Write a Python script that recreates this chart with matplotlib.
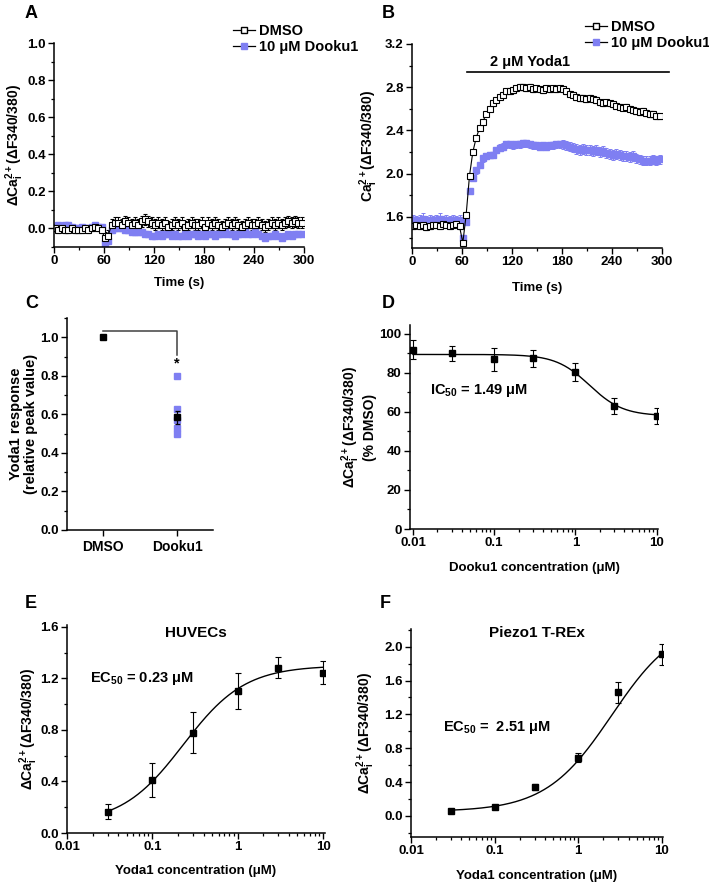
import numpy as np
import matplotlib
matplotlib.use("Agg")
import matplotlib.pyplot as plt
from matplotlib.lines import Line2D
from matplotlib.ticker import MultipleLocator, FixedLocator, LogLocator, FuncFormatter, NullFormatter

plt.rcParams['font.family'] = ['Liberation Sans', 'DejaVu Sans']
plt.rcParams['font.weight'] = 'bold'
plt.rcParams['axes.labelweight'] = 'bold'
plt.rcParams['mathtext.fontset'] = 'custom'
plt.rcParams['mathtext.rm'] = 'Liberation Sans:bold'
plt.rcParams['mathtext.it'] = 'Liberation Sans:bold'
plt.rcParams['mathtext.bf'] = 'Liberation Sans:bold'
plt.rcParams['mathtext.default'] = 'rm'

BLUE = '#7f7ff2'
TICK_FS = 9.5
LABEL_FS = 9.5
YLAB_FS = 10

# ---- panel A: baseline traces (dF340/380), one point every 4 s starting at 1 s
a_dmso = [0.00, -0.01, 0.00, -0.01, -0.01, 0.00, -0.01, -0.01, -0.01, 0.00,
          -0.01, 0.00, 0.01, 0.00, -0.01, -0.05, -0.04, 0.02, 0.03, 0.03,
          0.02, 0.04, 0.03, 0.02, 0.03, 0.02, 0.04, 0.05, 0.04, 0.03,
          0.02, 0.03, 0.02, 0.03, 0.01, 0.02, 0.03, 0.02, 0.03, 0.01,
          0.02, 0.03, 0.02, 0.02, 0.03, 0.01, 0.03, 0.02, 0.03, 0.02,
          0.01, 0.02, 0.03, 0.02, 0.03, 0.02, 0.01, 0.02, 0.03, 0.02,
          0.02, 0.03, 0.02, 0.01, 0.02, 0.03, 0.02, 0.03, 0.02, 0.03,
          0.04, 0.03, 0.04, 0.03, 0.03]
a_dmso_err = [0.015] * 15 + [0.03] * 60
a_dooku = [0.01, 0.02, 0.01, 0.02, 0.02, 0.01, 0.00, 0.00, 0.01, 0.00,
           0.00, 0.01, 0.02, 0.01, 0.01, -0.08, -0.07, -0.01, 0.00, 0.00,
           0.00, -0.01, -0.01, -0.02, -0.02, -0.02, -0.02, -0.03, -0.03, -0.04,
           -0.04, -0.03, -0.04, -0.03, -0.03, -0.04, -0.03, -0.04, -0.04, -0.03,
           -0.04, -0.03, -0.03, -0.04, -0.03, -0.04, -0.03, -0.03, -0.04, -0.03,
           -0.03, -0.02, -0.03, -0.03, -0.04, -0.03, -0.03, -0.02, -0.03, -0.03,
           -0.02, -0.03, -0.04, -0.05, -0.04, -0.04, -0.03, -0.04, -0.05, -0.04,
           -0.03, -0.04, -0.03, -0.03, -0.03]
a_dooku_err = [0.012] * 75

# ---- panel B: Yoda1 responses (F340/380)
b_dmso = [1.51, 1.52, 1.51, 1.52, 1.50, 1.51, 1.52, 1.52, 1.51, 1.53,
          1.52, 1.51, 1.52, 1.53, 1.51, 1.36, 1.62, 1.98, 2.20, 2.33,
          2.42, 2.48, 2.55, 2.60, 2.65, 2.68, 2.71, 2.73, 2.76, 2.76,
          2.77, 2.79, 2.80, 2.80, 2.79, 2.80, 2.78, 2.79, 2.78, 2.77,
          2.79, 2.78, 2.79, 2.78, 2.79, 2.78, 2.76, 2.74, 2.73, 2.71,
          2.70, 2.70, 2.69, 2.70, 2.69, 2.68, 2.66, 2.65, 2.66, 2.65,
          2.64, 2.63, 2.62, 2.61, 2.62, 2.60, 2.59, 2.58, 2.57, 2.58,
          2.56, 2.55, 2.55, 2.53, 2.53]
b_dmso_err = [0.02] * 15 + [0.02] * 15 + [0.025] * 45
b_dooku = [1.57, 1.56, 1.57, 1.58, 1.56, 1.57, 1.56, 1.57, 1.58, 1.56,
           1.57, 1.56, 1.57, 1.56, 1.57, 1.40, 1.55, 1.84, 1.96, 2.03,
           2.08, 2.14, 2.16, 2.17, 2.17, 2.22, 2.24, 2.25, 2.27, 2.27,
           2.26, 2.27, 2.27, 2.28, 2.28, 2.27, 2.26, 2.26, 2.25, 2.26,
           2.25, 2.26, 2.26, 2.27, 2.27, 2.27, 2.26, 2.25, 2.24, 2.23,
           2.22, 2.23, 2.22, 2.22, 2.21, 2.22, 2.20, 2.21, 2.19, 2.18,
           2.17, 2.18, 2.17, 2.16, 2.16, 2.15, 2.16, 2.14, 2.13, 2.12,
           2.12, 2.12, 2.13, 2.12, 2.13]
b_dooku_err = [0.05] * 15 + [0.03] * 30 + [0.045] * 30

# ---- panel C: relative peak values
c_groups = ['DMSO', 'Dooku1']
c_dmso_mean = 1.0
c_dooku_points = [0.80, 0.63, 0.57, 0.53, 0.50]
c_dooku_mean = 0.585
c_dooku_sem = 0.035

# ---- panel D: Dooku1 concentration response
d_conc = [0.01, 0.03, 0.1, 0.3, 1, 3, 10]
d_resp = [92, 90, 87, 87.5, 80.5, 63, 58]
d_err = [5, 4, 6, 4.5, 4.5, 4, 4]
d_fit = dict(top=89.5, bottom=58.0, ic50=1.49, hill=2.1)

# ---- panel E: HUVECs Yoda1 concentration response
e_conc = [0.03, 0.1, 0.3, 1, 3, 10]
e_resp = [0.165, 0.41, 0.78, 1.10, 1.285, 1.245]
e_err = [0.06, 0.13, 0.16, 0.14, 0.08, 0.09]
e_fit = dict(bottom=0.07, top=1.30, ec50=0.23, hill=1.2)

# ---- panel F: Piezo1 T-REx Yoda1 concentration response
f_conc = [0.03, 0.1, 0.3, 1, 3, 10]
f_resp = [0.06, 0.11, 0.34, 0.69, 1.46, 1.91]
f_err = [0.01, 0.02, 0.04, 0.05, 0.12, 0.12]
f_fit = dict(bottom=0.05, top=2.33, ec50=2.51, hill=1.1)

W, H = 709, 884
fig = plt.figure(figsize=(W / 100, H / 100), dpi=100)


def px_axes(left, top, right, bottom):
    return fig.add_axes([left / W, 1 - bottom / H, (right - left) / W, (bottom - top) / H])


def style(ax):
    for s in ('top', 'right'):
        ax.spines[s].set_visible(False)
    for s in ('left', 'bottom'):
        ax.spines[s].set_linewidth(1.1)
    ax.tick_params(which='major', direction='out', length=4, width=1.0, labelsize=TICK_FS, pad=2)
    ax.tick_params(which='minor', direction='out', length=2.5, width=0.9)
    for lab in ax.get_xticklabels() + ax.get_yticklabels():
        lab.set_fontweight('bold')


def log_axis(ax):
    ax.set_xscale('log')
    ax.xaxis.set_major_locator(FixedLocator([0.01, 0.1, 1, 10]))
    ax.xaxis.set_minor_locator(LogLocator(base=10, subs=np.arange(2, 10)))
    ax.xaxis.set_major_formatter(FuncFormatter(lambda v, p: f'{v:g}'))
    ax.xaxis.set_minor_formatter(NullFormatter())


def letter(x, y, s):
    fig.text(x / W, 1 - y / H, s, fontsize=13, fontweight='bold', va='baseline', ha='left')


ylab_d = r'$\Delta$Ca$^{2+}_{i}$($\Delta$F340/380)'
ylab_c = r'Ca$^{2+}_{i}$($\Delta$F340/380)'


def trace_legend(ax, x, y):
    hs = [Line2D([], [], color='k', lw=0.9, marker='s', ms=4, mfc='white', mec='k'),
          Line2D([], [], color='k', lw=0.9, marker='s', ms=4, mfc=BLUE, mec=BLUE)]
    ax.legend(hs, ['DMSO', '10 \u03bcM Dooku1'], loc='upper left', bbox_to_anchor=(x / W, 1 - y / H),
              bbox_transform=fig.transFigure, frameon=False, handlelength=1.5,
              handletextpad=0.3, borderpad=0, borderaxespad=0, labelspacing=0.15,
              prop={'weight': 'bold', 'size': 10.5})


def traces(ax, dmso, dmso_err, dooku, dooku_err):
    t1 = 1 + 4 * np.arange(len(dooku))
    ax.errorbar(t1, dooku, yerr=dooku_err, fmt='s', ls='none', color=BLUE, ms=3.8,
                mfc=BLUE, mec=BLUE, ecolor=BLUE, elinewidth=0.7, capsize=1.6, capthick=0.7)
    t0 = 1 + 4 * np.arange(len(dmso))
    ax.errorbar(t0, dmso, yerr=dmso_err, fmt='s', ls='-', lw=0.8, color='k', ms=3.8,
                mfc='white', mec='k', mew=0.8, ecolor='k', elinewidth=0.7, capsize=1.6, capthick=0.7)
    ax.set_xlim(0, 300)
    ax.xaxis.set_major_locator(MultipleLocator(60))
    ax.xaxis.set_minor_locator(MultipleLocator(30))
    ax.set_xlabel('Time (s)', fontsize=LABEL_FS, fontweight='bold')


# ---------------- A
axA = px_axes(54, 43.3, 304, 247)
traces(axA, a_dmso, a_dmso_err, a_dooku, a_dooku_err)
axA.set_ylim(-0.1, 1.0)
axA.yaxis.set_major_locator(FixedLocator([0.0, 0.2, 0.4, 0.6, 0.8, 1.0]))
axA.yaxis.set_minor_locator(MultipleLocator(0.1))
axA.yaxis.set_major_formatter(FuncFormatter(lambda v, p: f'{v:.1f}'))
axA.set_ylabel(ylab_d, fontsize=YLAB_FS)
axA.yaxis.set_label_coords(-0.112, 0.5)
axA.xaxis.set_label_coords(0.5, -0.147)
style(axA)
trace_legend(axA, 233, 24)
letter(25, 18, 'A')

# ---------------- B
axB = px_axes(412, 44, 662, 248)
traces(axB, b_dmso, b_dmso_err, b_dooku, b_dooku_err)
axB.set_ylim(1.31, 3.2)
axB.yaxis.set_major_locator(FixedLocator([1.6, 2.0, 2.4, 2.8, 3.2]))
axB.yaxis.set_minor_locator(MultipleLocator(0.2))
axB.yaxis.set_major_formatter(FuncFormatter(lambda v, p: f'{v:.1f}'))
axB.set_ylabel(ylab_c, fontsize=YLAB_FS)
axB.yaxis.set_label_coords(-0.128, 0.5)
axB.xaxis.set_label_coords(0.5, -0.167)
axB.plot([66, 308], [2.94, 2.94], color='k', lw=1.2, clip_on=False)
axB.text(142, 3.03, '2 \u03bcM Yoda1', ha='center', va='center', fontsize=10.5, fontweight='bold')
style(axB)
trace_legend(axB, 585, 20)
letter(382, 18, 'B')

# ---------------- C
axC = px_axes(67, 318, 213, 530)
axC.plot([1], [c_dmso_mean], 's', color='k', ms=4.5)
axC.plot([2] * len(c_dooku_points), c_dooku_points, 's', color=BLUE, ms=4.5, ls='none')
axC.errorbar([2], [c_dooku_mean], yerr=[c_dooku_sem], fmt='s', color='k', ms=4.5,
             elinewidth=0.9, capsize=1.8, capthick=0.9)
axC.plot([1, 2, 2], [1.033, 1.033, 0.91], color='#404040', lw=1.1)
axC.text(2, 0.865, '*', ha='center', va='center', fontsize=10.5, fontweight='bold')
axC.set_xlim(0.52, 2.48)
axC.set_ylim(0, 1.1)
axC.set_xticks([1, 2])
axC.set_xticklabels(c_groups)
axC.yaxis.set_major_locator(FixedLocator([0.0, 0.2, 0.4, 0.6, 0.8, 1.0]))
axC.yaxis.set_minor_locator(MultipleLocator(0.1))
axC.yaxis.set_major_formatter(FuncFormatter(lambda v, p: f'{v:.1f}'))
axC.set_ylabel('Yoda1 response\n(relative peak value)', fontsize=10.5, linespacing=1.05)
axC.yaxis.set_label_coords(-0.2, 0.5)
style(axC)
axC.tick_params(axis='x', labelsize=10, pad=3)
letter(25, 308, 'C')

# ---------------- D
axD = px_axes(410, 325, 658, 529)
log_axis(axD)
xx = np.logspace(np.log10(0.01), np.log10(10), 200)
yy = d_fit['bottom'] + (d_fit['top'] - d_fit['bottom']) / (1 + (xx / d_fit['ic50']) ** d_fit['hill'])
axD.plot(xx, yy, color='k', lw=1.0)
axD.errorbar(d_conc, d_resp, yerr=d_err, fmt='s', color='k', ms=3.8, elinewidth=0.8,
             capsize=2, capthick=0.8)
axD.set_xlim(0.0092, 10.4)
axD.set_ylim(0, 104.6)
axD.yaxis.set_major_locator(FixedLocator([0, 20, 40, 60, 80, 100]))
axD.yaxis.set_minor_locator(MultipleLocator(10))
axD.set_ylabel(ylab_d + '\n(% DMSO)', fontsize=YLAB_FS, linespacing=1.05)
axD.yaxis.set_label_coords(-0.133, 0.5)
axD.set_xlabel('Dooku1 concentration (\u03bcM)', fontsize=LABEL_FS)
axD.xaxis.set_label_coords(0.5, -0.162)
axD.text(0.0162, 71, r'IC$_{50}$ = 1.49 $\mu$M', ha='left', va='center', fontsize=10.5, fontweight='bold')
style(axD)
letter(382, 308, 'D')

# ---------------- E
axE = px_axes(67, 625, 325, 833)
log_axis(axE)
xx = np.logspace(np.log10(0.03), np.log10(10), 200)
yy = e_fit['bottom'] + (e_fit['top'] - e_fit['bottom']) / (1 + (e_fit['ec50'] / xx) ** e_fit['hill'])
axE.plot(xx, yy, color='k', lw=1.0)
axE.errorbar(e_conc, e_resp, yerr=e_err, fmt='s', color='k', ms=3.8, elinewidth=0.8,
             capsize=2, capthick=0.8)
axE.set_xlim(0.01, 10.55)
axE.set_ylim(0, 1.615)
axE.yaxis.set_major_locator(FixedLocator([0.0, 0.4, 0.8, 1.2, 1.6]))
axE.yaxis.set_minor_locator(MultipleLocator(0.2))
axE.yaxis.set_major_formatter(FuncFormatter(lambda v, p: f'{v:.1f}'))
axE.set_ylabel(ylab_d, fontsize=YLAB_FS)
axE.yaxis.set_label_coords(-0.105, 0.5)
axE.set_xlabel('Yoda1 concentration (\u03bcM)', fontsize=LABEL_FS)
axE.xaxis.set_label_coords(0.5, -0.154)
axE.text(0.5, 0.96, 'HUVECs', transform=axE.transAxes, ha='center', va='center',
         fontsize=11, fontweight='bold')
axE.text(0.0186, 1.2, r'EC$_{50}$ = 0.23 $\mu$M', ha='left', va='center', fontsize=10.5, fontweight='bold')
style(axE)
letter(25, 608, 'E')

# ---------------- F
axF = px_axes(411, 629, 663, 837)
log_axis(axF)
xx = np.logspace(np.log10(0.03), np.log10(10), 200)
yy = f_fit['bottom'] + (f_fit['top'] - f_fit['bottom']) / (1 + (f_fit['ec50'] / xx) ** f_fit['hill'])
axF.plot(xx, yy, color='k', lw=1.0)
axF.errorbar(f_conc, f_resp, yerr=f_err, fmt='s', color='k', ms=3.8, elinewidth=0.8,
             capsize=2, capthick=0.8)
axF.set_xlim(0.01, 10.3)
axF.set_ylim(-0.25, 2.21)
axF.yaxis.set_major_locator(FixedLocator([0.0, 0.4, 0.8, 1.2, 1.6, 2.0]))
axF.yaxis.set_minor_locator(MultipleLocator(0.2))
axF.yaxis.set_major_formatter(FuncFormatter(lambda v, p: f'{v:.1f}'))
axF.set_ylabel(ylab_d, fontsize=YLAB_FS)
axF.yaxis.set_label_coords(-0.135, 0.5)
axF.set_xlabel('Yoda1 concentration (\u03bcM)', fontsize=LABEL_FS)
axF.xaxis.set_label_coords(0.5, -0.159)
axF.text(0.5, 0.98, 'Piezo1 T-REx', transform=axF.transAxes, ha='center', va='center',
         fontsize=11, fontweight='bold')
axF.text(0.024, 1.04, r'EC$_{50}$ =  2.51 $\mu$M', ha='left', va='center', fontsize=10.5, fontweight='bold')
style(axF)
letter(380, 608, 'F')

fig.savefig('out.png', dpi=100)
